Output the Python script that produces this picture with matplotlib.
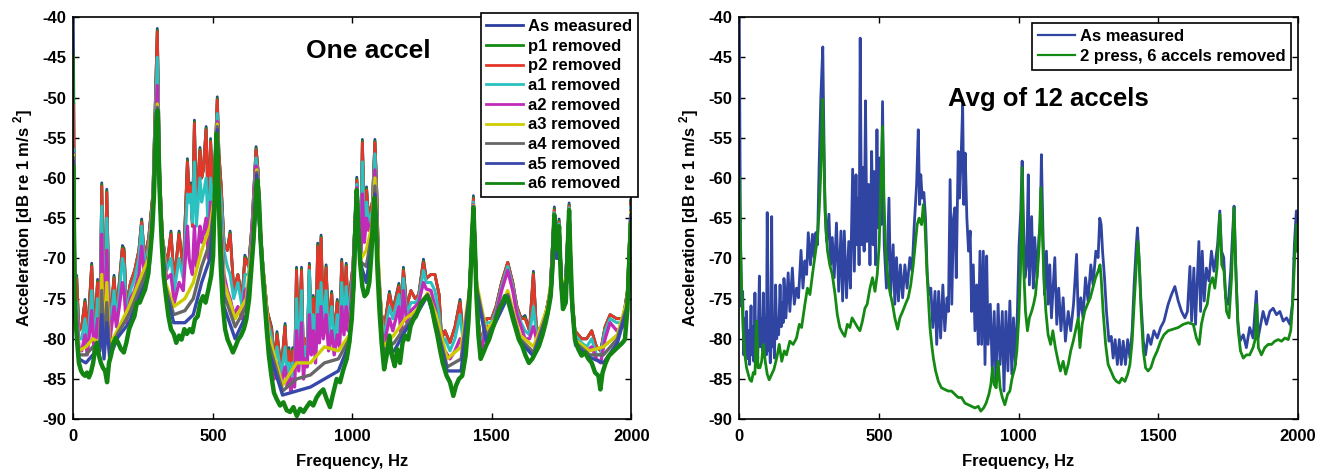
import numpy as np
import matplotlib
matplotlib.use("Agg")
import matplotlib.pyplot as plt

plt.rcParams["font.family"] = ["Liberation Sans", "DejaVu Sans"]
plt.rcParams["font.weight"] = "bold"
plt.rcParams["axes.unicode_minus"] = False
plt.rcParams["mathtext.fontset"] = "custom"
plt.rcParams["mathtext.rm"] = "Liberation Sans"
plt.rcParams["mathtext.bf"] = "Liberation Sans:bold"

freq_ticks = [0, 500, 1000, 1500, 2000]
db_ticks = [-90, -85, -80, -75, -70, -65, -60, -55, -50, -45, -40]

# ---- left panel ("One accel") ----
# shared frequency grid for the top of the stack (Hz)
f_top = [
    0, 6, 12, 20, 30, 42, 50, 66, 75, 87,
    95, 102, 110, 120, 130, 146, 155, 176, 182, 190,
    205, 220, 235, 245, 255, 270, 285, 301, 310, 320,
    335, 350, 362, 379, 394, 409, 415, 420, 427, 434,
    441, 454, 460, 466, 476, 484, 492, 500, 507, 516,
    522, 530, 540, 552, 562, 575, 590, 605, 615, 628,
    640, 655, 662, 670, 680, 695, 711, 720, 730, 745,
    759, 767, 773, 780, 786, 793, 800, 808, 818, 825,
    830, 838, 846, 853, 860, 868, 876, 882, 888, 896,
    906, 915, 926, 935, 946, 954, 962, 970, 978, 985,
    992, 1002, 1016, 1024, 1030, 1036, 1043, 1051, 1058, 1064,
    1072, 1081, 1088, 1095, 1105, 1115, 1133, 1145, 1167, 1175,
    1183, 1195, 1210, 1225, 1238, 1255, 1265, 1282, 1296, 1311,
    1320, 1332, 1350, 1368, 1386, 1398, 1416, 1425, 1434, 1442,
    1452, 1462, 1481, 1499, 1515, 1535, 1557, 1575, 1590, 1605,
    1619, 1635, 1649, 1660, 1679, 1695, 1709, 1724, 1733, 1741,
    1750, 1762, 1777, 1786, 1798, 1822, 1840, 1858, 1875, 1890,
    1906, 1924, 1948, 1971, 1986, 1999, 2000]

as_measured_1 = [
    -40, -73.5, -72.1, -79, -78.5, -75.1, -80, -70.6, -80, -72.6,
    -79, -60.6, -79, -61.4, -79, -72.1, -77, -68.4, -68.8, -76,
    -73, -71.5, -69, -65.1, -70, -67.5, -62, -41.4, -60, -67.5,
    -71, -66.6, -73, -66.6, -71.5, -57.6, -62, -60.6, -66, -52.8,
    -64, -56.2, -60, -59, -53.6, -65, -55.1, -62, -58.5, -49.9,
    -57, -61, -68, -69, -66.6, -74, -72, -75, -69.6, -71,
    -66, -56.1, -59, -66, -71, -76.5, -78.6, -83, -79.1, -84,
    -78.1, -84.5, -81.1, -85, -81.1, -84, -71.1, -82, -71.1, -83,
    -80, -82, -70.6, -80, -74.6, -81, -68.1, -78, -67.1, -78,
    -70.8, -79, -74.1, -80, -75.1, -79.5, -70.1, -78, -70.6, -77,
    -74, -71, -59.9, -66, -69, -55.2, -65, -61.1, -65, -64,
    -63, -55.2, -62, -72, -77, -78.5, -74.1, -76.5, -73.1, -78,
    -71.1, -76, -74, -75, -74.5, -70.1, -72.5, -72, -72, -74.5,
    -80, -79, -80.5, -78.5, -75.1, -80, -76, -70, -62.2, -70,
    -78, -80.5, -77.5, -77.5, -76, -73, -70.5, -73, -76, -77.5,
    -77.1, -79, -71.6, -79, -78.5, -76.5, -74, -63.6, -69, -65.1,
    -73, -74.5, -63.1, -74, -79, -80, -80, -79, -81, -81.5,
    -78.5, -77, -77.5, -77.5, -74, -62.6, -66]

p1_removed = [
    -44.8, -73.8, -72.3, -79, -78.5, -75.3, -80, -70.8, -80, -72.8,
    -79, -60.8, -79, -61.6, -79, -72.3, -77, -68.6, -69, -76,
    -73, -71.5, -69, -65.3, -70, -67.5, -62, -41.6, -60, -67.5,
    -71, -66.8, -73, -66.8, -71.5, -57.8, -62, -60.8, -66, -53,
    -64, -56.4, -60, -59, -53.8, -65, -55.3, -62, -58.5, -50.1,
    -57, -61, -68, -69, -66.8, -74, -72, -75, -69.8, -71,
    -66, -56.3, -59, -66, -71, -76.5, -78.8, -83, -79.3, -84,
    -78.3, -84.5, -81.3, -85, -81.3, -84, -71.3, -82, -71.3, -83,
    -80, -82, -70.8, -80, -74.8, -81, -68.3, -78, -67.3, -78,
    -71, -79, -74.3, -80, -75.3, -79.5, -70.3, -78, -70.8, -77,
    -74, -71, -60.1, -66, -69, -55.4, -65, -61.3, -65, -64,
    -63, -55.4, -62, -72, -77, -78.5, -74.3, -76.5, -73.3, -78,
    -71.3, -76, -74, -75, -74.5, -70.3, -72.5, -72, -72, -74.5,
    -80, -79, -80.5, -78.5, -75.3, -80, -76, -70, -62.4, -70,
    -78, -80.5, -77.5, -77.5, -76, -73, -70.5, -73, -76, -77.5,
    -77.3, -79, -71.8, -79, -78.5, -76.5, -74, -63.8, -69, -65.3,
    -73, -74.5, -63.3, -74, -79, -80, -80, -79, -81, -81.5,
    -78.5, -77, -77.5, -77.5, -74, -62.8, -66]

p2_removed = [
    -51, -74, -72.5, -79, -78.5, -75.5, -80, -71, -80, -73,
    -79, -61, -79, -61.8, -79, -72.5, -77, -68.8, -69.2, -76,
    -73, -71.5, -69, -65.5, -70, -67.5, -62, -41.8, -60, -67.5,
    -71, -67, -73, -67, -71.5, -58, -62, -61, -66, -53.2,
    -64, -56.6, -60, -59, -54, -65, -55.5, -62, -58.5, -50.3,
    -57, -61, -68, -69, -67, -74, -72, -75, -70, -71,
    -66, -56.5, -59, -66, -71, -76.5, -79, -83, -79.5, -84,
    -78.5, -84.5, -81.5, -85, -81.5, -84, -71.5, -82, -71.5, -83,
    -80, -82, -71, -80, -75, -81, -68.5, -78, -67.5, -78,
    -71.2, -79, -74.5, -80, -75.5, -79.5, -70.5, -78, -71, -77,
    -74, -71, -60.3, -66, -69, -55.6, -65, -61.5, -65, -64,
    -63, -55.6, -62, -72, -77, -78.5, -74.5, -76.5, -73.5, -78,
    -71.5, -76, -74, -75, -74.5, -70.5, -72.5, -72, -72, -74.5,
    -80, -79, -80.5, -78.5, -75.5, -80, -76, -70, -62.6, -70,
    -78, -80.5, -77.5, -77.5, -76, -73, -70.5, -73, -76, -77.5,
    -77.5, -79, -72, -79, -78.5, -76.5, -74, -64, -69, -65.5,
    -73, -74.5, -63.5, -74, -79, -80, -80, -79, -81, -81.5,
    -78.5, -77, -77.5, -77.5, -74, -63, -66]

a1_removed = [
    -56.5, -75, -75.5, -80, -80, -77.5, -81, -74, -81, -75,
    -79.5, -63.5, -80, -65, -79.5, -74, -78, -70, -71, -77,
    -74, -72.5, -70, -66, -71, -68.5, -63, -45, -61, -68,
    -71.5, -70, -74, -70, -72.5, -62, -63, -62, -65.5, -58,
    -66, -60, -63, -62, -60, -67, -60, -64, -60, -52,
    -60, -63, -69, -71, -72, -75, -73, -76, -72, -72,
    -67, -57.5, -60, -66.5, -71.5, -77.5, -80, -84, -81, -84.5,
    -81, -85, -83, -85.5, -83, -84.5, -75, -83, -74, -84,
    -81, -82, -71.5, -80.5, -77, -81.5, -74, -79, -73, -78.5,
    -74, -80, -76, -81, -77, -80, -73, -78.5, -73.5, -78,
    -75, -72, -60.8, -67, -70, -58, -66, -63, -65.5, -65,
    -64, -57, -64, -73, -78, -79.5, -76, -77.5, -74.5, -79,
    -72.5, -77, -75.5, -75.5, -75, -71.5, -73, -73, -74, -77,
    -80.5, -80, -81.5, -80, -77, -80.5, -76.5, -70.5, -63, -71,
    -78.5, -81, -78, -78, -76.5, -73.5, -71, -73.5, -76.5, -78,
    -79, -79.5, -76, -79.5, -79, -77, -74.5, -64.3, -69.5, -65.7,
    -73.5, -75, -63.7, -74.5, -79.5, -80.5, -81, -80, -82, -82,
    -79, -77.5, -78, -78, -74.5, -63.5, -66.5]

a2_removed = [
    -57, -76, -77, -81, -81.5, -79.5, -82, -76.5, -82, -77.5,
    -80.5, -67, -81, -69, -80.5, -76, -78.5, -73, -74, -78,
    -75, -74, -72, -68.5, -72, -69.5, -64, -48.5, -62, -69,
    -72.5, -72, -75.5, -73, -74, -66, -70, -71, -72, -66,
    -71, -66, -68, -67, -65, -70, -63, -66, -61.5, -53,
    -62, -66, -72, -74, -75, -77, -76, -77.5, -74, -73.5,
    -68, -58.5, -60.5, -67, -72, -78.5, -82, -85, -83, -85.5,
    -83.5, -86, -84.5, -86.5, -85, -86, -79, -84, -78, -85,
    -82.5, -83.5, -77, -82, -79, -83, -77, -80.5, -76, -80,
    -77, -81.5, -79, -82, -79.5, -81, -76, -79.5, -76, -79,
    -77, -72.5, -61.2, -68, -71, -62, -68, -65, -66.5, -66,
    -65, -59, -65.5, -74, -79, -80.5, -77.5, -79, -76, -80,
    -74, -78, -76.5, -76, -75.5, -73, -73.8, -74, -76, -79,
    -81.5, -81.5, -82.5, -81.5, -80, -81.5, -77, -71, -63.3, -71.5,
    -79, -81.5, -78.5, -78.5, -77, -74, -71.5, -74, -77, -78.5,
    -80, -80, -78.5, -80, -79.5, -77.5, -75, -64.5, -70, -66,
    -74, -75.2, -63.9, -75, -80, -81, -81.5, -81, -82.5, -83,
    -80, -78, -79, -78.5, -75, -64, -67]

# coarser grid for the lower part of the stack (Hz)
f_low = [
    0, 6, 20, 45, 70, 95, 102, 110, 120, 130,
    160, 200, 240, 270, 285, 301, 310, 330, 360, 400,
    430, 460, 490, 507, 516, 522, 540, 580, 620, 645,
    657, 670, 700, 750, 800, 850, 900, 950, 990, 1005,
    1016, 1028, 1050, 1070, 1081, 1090, 1110, 1150, 1190, 1230,
    1270, 1300, 1340, 1390, 1420, 1434, 1445, 1480, 1520, 1557,
    1600, 1650, 1700, 1716, 1724, 1733, 1741, 1750, 1770, 1777,
    1786, 1800, 1850, 1900, 1950, 1985, 1999, 2000]

a3_removed = [
    -57.2, -76.5, -81.5, -81, -80, -80.5, -72, -81.2, -73, -80.8,
    -78.8, -76, -72.5, -70, -64.2, -50.8, -62.2, -73, -76, -75,
    -73, -69, -66, -62, -53.3, -62.5, -73, -77.5, -75, -67.5,
    -59, -67.2, -79.5, -85.8, -83, -83, -81, -81.5, -79.5, -73.2,
    -61.5, -70.2, -69, -66, -60, -68, -81, -79.5, -77.5, -76.5,
    -74.3, -77, -82.5, -81, -74, -63.4, -73, -79, -77.2, -74,
    -79.5, -81, -76, -72, -64.5, -70, -66, -74, -72, -63.9,
    -75, -80.2, -81.5, -81, -79.5, -75.2, -64.2, -67.2]

a4_removed = [
    -57.5, -76.8, -82, -82, -81, -81, -74, -81.8, -75.5, -81.5,
    -79.3, -77, -73.5, -71, -64.5, -51.2, -62.5, -73.5, -77, -76.5,
    -75, -71, -68, -62.5, -53.6, -63, -74.5, -78.5, -76, -68,
    -59.3, -67.4, -80.5, -86.5, -85, -84.5, -83, -82.5, -80, -73.4,
    -61.8, -70.4, -71, -67, -61, -69.5, -81.5, -80.5, -78.5, -76.8,
    -74.5, -78, -83.5, -82.5, -74.2, -63.5, -73.5, -79.7, -77.4, -74.5,
    -80, -81.7, -76.5, -72.5, -64.5, -70, -66, -74, -72.5, -64,
    -75.2, -80.5, -82, -82, -80, -75.8, -64.5, -67.5]

a5_removed = [
    -58, -77, -82.5, -83, -82, -81.5, -77, -82.5, -78, -82.3,
    -79.8, -78, -74.5, -72, -64.8, -51.5, -62.8, -74, -78, -78,
    -77, -73, -70, -63, -54, -63.5, -76, -80, -77, -68.5,
    -59.6, -67.6, -81.5, -87, -86.5, -86, -85, -84, -80.5, -73.6,
    -62, -70.5, -73, -68, -62, -70.5, -82, -81.5, -79, -77,
    -74.6, -78.5, -84, -84, -74.4, -63.6, -74, -80.3, -77.5, -74.8,
    -80.3, -82.2, -77, -73, -64.6, -70, -66, -74, -73, -64,
    -75.4, -80.8, -82.3, -83, -80.5, -76.2, -65, -68]

# lowest trace, (Hz, dB)
a6_removed = [
    (0, -58.6), (4, -72.2), (8, -77.6), (14, -80.5), (20, -83), (28, -84),
    (35, -84.4), (42, -84.6), (49, -84.2), (56, -84.8), (63, -84.2), (71, -83),
    (78, -81.3), (85, -80.5), (92, -82.1), (99, -83), (106, -83.6), (114, -84),
    (121, -85.4), (128, -83), (135, -82.1), (144, -80.5), (152, -79.9),
    (161, -80.5), (171, -81.3), (181, -81.7), (190, -80.5), (200, -78.8),
    (209, -78), (219, -77.2), (228, -75.5), (238, -75.5), (247, -74.7),
    (257, -73.9), (267, -72.2), (275, -69.7), (283, -66.4), (289, -62.3),
    (294, -56.5), (299, -52), (302, -51.6), (306, -56.5), (311, -63.1),
    (317, -68.1), (324, -72.2), (332, -74.7), (341, -77.2), (350, -78.8),
    (360, -79.4), (369, -80.5), (379, -79.6), (388, -80.1), (398, -78.8),
    (407, -79.4), (417, -78.8), (427, -79.2), (436, -77.6), (446, -77.2),
    (455, -75.5), (465, -74.7), (474, -75.5), (484, -73.9), (494, -72.2),
    (501, -69.7), (507, -62.3), (513, -54.5), (517, -56.5), (522, -64),
    (528, -70.6), (535, -75.5), (544, -78.8), (553, -80.1), (563, -80.9),
    (572, -81.7), (582, -80.9), (591, -80.1), (601, -79.6), (611, -78.8),
    (620, -77.6), (630, -75.1), (638, -71.4), (645, -68.1), (651, -64.8),
    (657, -60.8), (660, -60.3), (666, -63.1), (672, -68.1), (679, -72.2),
    (686, -75.5), (693, -78.8), (701, -82.1), (710, -84.6), (719, -86.7),
    (729, -87.5), (741, -88.3), (753, -87.9), (765, -88.9), (777, -89.1),
    (789, -88.5), (801, -89.6), (813, -88.7), (825, -89.1), (836, -88.5),
    (848, -87.9), (860, -88.3), (872, -87.3), (884, -86.7), (896, -86.3),
    (908, -87.5), (920, -88.5), (932, -86.7), (944, -85), (956, -85.4),
    (968, -83.8), (980, -82.5), (989, -80.5), (998, -77.6), (1005, -73),
    (1011, -66), (1016, -61.5), (1020, -65), (1028, -70.6), (1036, -73.5),
    (1044, -74.7), (1053, -74.3), (1061, -73), (1068, -69.7), (1074, -65.6),
    (1079, -62.5), (1084, -64.8), (1090, -71.4), (1097, -76.3), (1105, -80.5),
    (1114, -83.8), (1123, -82.1), (1133, -79.6), (1142, -82.1), (1152, -83.4),
    (1161, -81.3), (1171, -83), (1180, -80.5), (1190, -79.6), (1200, -80.1),
    (1209, -78.4), (1219, -77.6), (1228, -77.2), (1238, -76.3), (1247, -75.5),
    (1257, -75.1), (1267, -74.7), (1276, -75.1), (1286, -76.3), (1295, -78),
    (1305, -79.6), (1314, -81.3), (1324, -83), (1338, -84.6), (1350, -85.4),
    (1362, -87.1), (1372, -85.8), (1382, -85), (1394, -84.6), (1406, -82.1),
    (1416, -78), (1423, -73), (1429, -67.3), (1434, -63.7), (1439, -68.1),
    (1445, -74.7), (1452, -79.6), (1460, -82.5), (1470, -81.7), (1479, -80.9),
    (1490, -80.1), (1502, -78.8), (1514, -77.6), (1526, -76.3), (1538, -75.5),
    (1547, -74.7), (1557, -75.1), (1566, -76.3), (1576, -77.6), (1586, -78.8),
    (1597, -80.1), (1609, -80.9), (1621, -82.1), (1633, -83), (1645, -82.5),
    (1657, -81.7), (1669, -80.9), (1681, -79.6), (1693, -78), (1703, -76.3),
    (1711, -74.7), (1718, -70.6), (1724, -64.6), (1730, -68.1), (1736, -68.9),
    (1741, -66), (1747, -72.2), (1755, -76.3), (1765, -75.5), (1772, -68.9),
    (1777, -64), (1781, -68.9), (1789, -76.3), (1798, -80.1), (1810, -81.3),
    (1822, -82.1), (1834, -81.7), (1846, -82.5), (1858, -83), (1870, -84.2),
    (1882, -84.6), (1889, -86.3), (1897, -84.2), (1908, -83), (1920, -82.1),
    (1932, -81.7), (1944, -81.3), (1956, -80.9), (1968, -80.5), (1977, -80.1),
    (1986, -76.3), (1993, -69.7), (1999, -65.6), (2000, -68.9)]

# ---- right panel ("Avg of 12 accels"), (Hz, dB) ----
avg_measured = [
    (0, -40), (4, -66), (8, -76), (12, -74.1), (16, -82), (19, -77.5),
    (22, -81.5), (26, -76.6), (30, -82.5), (33, -79), (37, -83.2), (42, -75.9),
    (45, -82), (48, -78.5), (52, -82.8), (56, -74.3), (59, -81), (62, -78.5),
    (66, -82.5), (72, -72.2), (76, -81), (79, -77.5), (83, -81.5), (86, -74.3),
    (90, -81), (93, -78), (97, -82), (100, -64.3), (104, -81.5), (107, -79),
    (111, -83), (116, -64.8), (119, -81), (122, -79.5), (126, -82.4),
    (130, -73.3), (134, -80), (137, -77.5), (141, -79.5), (146, -73.3),
    (150, -78.5), (153, -75.5), (157, -78),
    (160, -72.5), (167, -77.4), (175, -71.8), (181, -76.6), (190, -71.2),
    (197, -75.7), (205, -73.7), (212, -74.9), (221, -69), (228, -73.7),
    (235, -70.3), (241, -72), (247, -66.8), (255, -70.8), (262, -67),
    (268, -69.9), (274, -66.8), (280, -68.3), (286, -58.3), (292, -50),
    (299, -43.7), (302, -52), (307, -64), (313, -67.9), (321, -64.5),
    (327, -70.8), (333, -67.4), (340, -72.4), (348, -65.6), (356, -74.1),
    (364, -66.6), (370, -75.3), (376, -66.6), (384, -74.9), (392, -67.9),
    (398, -73.7), (406, -58.9), (412, -71.6), (418, -59.6), (422, -68.3),
    (426, -62.5), (429, -70.8), (433, -42.6), (438, -68.3), (443, -58.7),
    (447, -69.1), (452, -50.4), (457, -67.9), (463, -60.8), (468, -70.8),
    (474, -56.7), (479, -68.3), (483, -59.2), (488, -70.8), (493, -54),
    (497, -66.2), (503, -57.5), (508, -65.8), (513, -50.5), (519, -68.3),
    (527, -73.7), (536, -62.5), (542, -74.5), (551, -68.3), (557, -75.7),
    (563, -69.9), (570, -75.3), (577, -70.8), (585, -74.9), (593, -70.8),
    (601, -73.7), (611, -69.9), (619, -71.6), (626, -66.2), (635, -60.8),
    (641, -54), (646, -63.3), (650, -59.6), (655, -62.5), (661, -61.8),
    (667, -65), (673, -72), (679, -74.5), (686, -73.7), (693, -78.6),
    (701, -74.1), (707, -80.7), (714, -74.1), (721, -79.9), (729, -73.3),
    (736, -79), (744, -74.9), (749, -76.6), (755, -60.2), (761, -75.7),
    (767, -65), (772, -63.7), (777, -72.4), (784, -56.7), (789, -62.5),
    (794, -57.9), (800, -50.9), (804, -63.3), (809, -56.9), (815, -65),
    (821, -69.1), (827, -66.6), (832, -76.6), (838, -70.8), (844, -79),
    (850, -73.3), (856, -80.7), (862, -69.1), (868, -80.7), (874, -69.1),
    (880, -83.2), (886, -69.7), (891, -80.7), (899, -75.7), (906, -84),
    (913, -76.6), (919, -85.3), (927, -75.7), (934, -83.2), (942, -76.6),
    (948, -86.5), (955, -76.6), (962, -84), (969, -75.3), (976, -84.4),
    (982, -77.4), (989, -83.2), (996, -76.6), (1002, -68.3), (1008, -64.1),
    (1013, -57.9), (1018, -65.8), (1023, -72.4), (1029, -70.8), (1035, -59.6),
    (1039, -73.3), (1047, -64.8), (1053, -73.7), (1058, -67.4), (1066, -72.4),
    (1073, -67.4), (1078, -65.8), (1082, -57.1), (1087, -65.8), (1093, -74.5),
    (1100, -69.1), (1106, -75.7), (1112, -70.8), (1118, -77.4), (1130, -69.9),
    (1137, -78.2), (1144, -73.7), (1152, -79), (1160, -74.9), (1168, -80.3),
    (1178, -76.6), (1187, -79), (1197, -75.7), (1208, -69.5), (1214, -77.4),
    (1223, -74.9), (1231, -77.4), (1240, -72.4), (1249, -75.3), (1259, -70.8),
    (1267, -73.3), (1277, -69.1), (1285, -69.9), (1291, -65), (1296, -65.8),
    (1301, -69.1), (1308, -72.4), (1315, -76.6), (1324, -80.3), (1332, -79.7),
    (1339, -82.4), (1346, -80.1), (1354, -83.2), (1361, -80.1), (1368, -83.2),
    (1375, -80.3), (1383, -83.2), (1391, -80.1), (1399, -82.4), (1407, -79),
    (1414, -73.3), (1422, -68.3), (1426, -66.2), (1432, -70.3), (1438, -74.9),
    (1447, -80.3), (1455, -82), (1464, -79.5), (1474, -80.7), (1485, -79),
    (1497, -79.9), (1509, -78.6), (1521, -77.8), (1536, -75.7), (1548, -74.5),
    (1560, -73.5), (1572, -75.3), (1584, -76.6), (1596, -77.4), (1605, -76.6),
    (1614, -71), (1620, -77.8), (1628, -71.2), (1634, -78.2), (1646, -67.9),
    (1652, -76.6), (1658, -69.1), (1665, -75.3), (1673, -71.2), (1682, -72.8),
    (1691, -69.1), (1700, -71.6), (1707, -69.9), (1713, -68.3), (1721, -64.1),
    (1727, -69.1), (1735, -69.9), (1742, -74.9), (1751, -75.7), (1760, -71.6),
    (1766, -67.4), (1772, -63.5), (1778, -70.8), (1785, -77.8), (1793, -80.3),
    (1805, -79.5), (1816, -81.1), (1828, -78.6), (1840, -79.9), (1852, -74.1),
    (1858, -79.9), (1876, -76.6), (1888, -78.2), (1900, -76.6), (1912, -76.2),
    (1924, -77), (1936, -76.6), (1948, -77.8), (1960, -77.4), (1972, -78.2),
    (1981, -75.7), (1988, -68.3), (1995, -64.1), (2000, -68.3)]

avg_removed = [
    (0, -60), (4, -68), (8, -73.3), (14, -79), (20, -82), (26, -83.6),
    (32, -84.4), (38, -85.1), (44, -85.3), (50, -84.2), (56, -84.4), (62, -77.8),
    (67, -83.6), (74, -83.6), (80, -82.8), (86, -80.7), (93, -82.8), (100, -84.4),
    (107, -85.1), (116, -84.4), (124, -83.8), (134, -82.4), (143, -80.7),
    (152, -82.8), (161, -81.5), (169, -82), (181, -80.3), (193, -80.7),
    (205, -79.9), (215, -78.2), (223, -78.6), (235, -75.7), (244, -73.7),
    (253, -74.5), (262, -72), (272, -69.5), (280, -67.4), (286, -64.1),
    (291, -60), (295, -55), (298, -50.2), (302, -55.8), (305, -60.8),
    (310, -66.2), (316, -69.1), (324, -70.8), (333, -72), (343, -74.5),
    (351, -77), (360, -78.6), (370, -79.3), (378, -79.7), (387, -78.2),
    (396, -78.6), (404, -77.4), (414, -78), (424, -78.6), (432, -79),
    (441, -77.8), (450, -76.2), (458, -75.7), (468, -73.7), (477, -72.4),
    (486, -74.1), (494, -72), (501, -68.3), (507, -60.8), (513, -53.6),
    (518, -62.5), (523, -68.3), (530, -71.6), (539, -74.1), (549, -75.7),
    (557, -77.4), (567, -78.8), (575, -77.4), (585, -76.6), (595, -75.7),
    (605, -74.9), (614, -73.3), (623, -70.8), (630, -68.3), (637, -65.8),
    (644, -65), (647, -65.4), (653, -65.8), (659, -63.3), (665, -65.8),
    (671, -70.8), (677, -74.9), (683, -78.6), (689, -80.7), (695, -82.4),
    (703, -84), (713, -85.3), (724, -86.1), (736, -86.3), (748, -86.5),
    (760, -86.5), (772, -86.9), (784, -87.3), (796, -87.3), (808, -88),
    (820, -88.2), (832, -88.4), (844, -88.6), (856, -88.4), (865, -89),
    (875, -88.6), (884, -88), (894, -86.9), (901, -85.7), (907, -83.6),
    (913, -85.7), (920, -86.1), (927, -82.8), (934, -86.1), (942, -87.3),
    (951, -88.2), (961, -86.9), (969, -86.5), (977, -84.9), (987, -83.6),
    (994, -81.5), (1001, -77.4), (1007, -71.6), (1013, -58.7), (1018, -70.8),
    (1025, -76.6), (1032, -79), (1039, -77.4), (1047, -76.6), (1054, -75.7),
    (1061, -74.5), (1068, -71.6), (1074, -68.3), (1080, -61.2), (1085, -66.2),
    (1091, -72.4), (1098, -76.6), (1106, -79.5), (1115, -80.7), (1123, -79),
    (1132, -81.1), (1142, -82.8), (1150, -84), (1160, -82.8), (1169, -84.4),
    (1178, -83.2), (1187, -81.5), (1196, -80.3), (1204, -79), (1214, -77.4),
    (1220, -81.1), (1228, -78.2), (1237, -76.6), (1247, -75.7), (1257, -74.9),
    (1266, -73.7), (1276, -72.4), (1285, -71.6), (1292, -70.8), (1296, -72.4),
    (1303, -76.6), (1312, -80.7), (1321, -83.2), (1331, -84), (1342, -84.9),
    (1351, -85.3), (1361, -85.5), (1370, -84.9), (1381, -85.3), (1391, -84.4),
    (1399, -83.2), (1407, -80.3), (1414, -75.7), (1422, -70.8), (1428, -67.9),
    (1433, -70.8), (1439, -76.6), (1447, -81.5), (1455, -83.6), (1464, -84),
    (1474, -83.6), (1485, -82.4), (1497, -81.5), (1509, -80.3), (1521, -79.5),
    (1536, -79), (1554, -78.8), (1572, -78.6), (1590, -78.2), (1608, -78),
    (1626, -78.2), (1637, -79.9), (1647, -80.7), (1655, -78.2), (1665, -76.6),
    (1676, -75.7), (1685, -73.3), (1695, -72.4), (1703, -73.7), (1711, -71.2),
    (1721, -64.5), (1728, -70.8), (1736, -71.6), (1745, -76.6), (1754, -77.4),
    (1763, -72.4), (1772, -63.7), (1779, -72.4), (1787, -79), (1795, -81.5),
    (1805, -82.4), (1816, -82), (1828, -82), (1840, -81.1), (1849, -79.9),
    (1853, -75.7), (1859, -81.1), (1870, -82), (1882, -81.1), (1894, -80.7),
    (1906, -80.7), (1918, -80.3), (1930, -80.1), (1942, -80.3), (1954, -79.9),
    (1966, -80.1), (1975, -79), (1983, -74.9), (1991, -68.3), (1997, -65.8),
    (2000, -69.1)]

left_labels = ["As measured", "p1 removed", "p2 removed", "a1 removed",
               "a2 removed", "a3 removed", "a4 removed", "a5 removed",
               "a6 removed"]
left_colors = ["#2b3d9c", "#138a13", "#e5362a", "#2bc1c1", "#c02cb8",
               "#cdcd00", "#676767", "#3848aa", "#128412"]
left_widths = [2.0, 2.0, 2.0, 2.2, 2.4, 2.4, 2.4, 2.4, 3.2]
right_labels = ["As measured", "2 press, 6 accels removed"]
right_colors = ["#3045a2", "#148a14"]

fig = plt.figure(figsize=(13.28, 4.71), dpi=100)
ax1 = fig.add_axes([0.0552, 0.110, 0.4202, 0.8535])
ax2 = fig.add_axes([0.5567, 0.110, 0.4205, 0.8535])

a6 = np.array(a6_removed).T
left_series = [(f_top, as_measured_1), (f_top, p1_removed), (f_top, p2_removed),
               (f_top, a1_removed), (f_top, a2_removed), (f_low, a3_removed),
               (f_low, a4_removed), (f_low, a5_removed), (a6[0], a6[1])]
handles = []
for (fx, dbx), lab, col, lw in zip(left_series, left_labels, left_colors,
                                   left_widths):
    ln, = ax1.plot(fx, dbx, color=col, lw=lw, label=lab)
    handles.append(ln)

for data, lab, col in zip([avg_measured, avg_removed], right_labels, right_colors):
    arr = np.array(data).T
    ax2.plot(arr[0], arr[1], color=col, lw=2.0, label=lab)

ylab = "Acceleration [dB re 1 m/s $^{\\mathbf{2}}$]"
for ax in (ax1, ax2):
    ax.set_xlim(0, 2000)
    ax.set_ylim(-90, -40)
    ax.set_xticks(freq_ticks)
    ax.set_yticks(db_ticks)
    ax.tick_params(direction="in", top=True, right=True, length=4,
                   width=1, labelsize=12, pad=5)
    ax.tick_params(axis="x", pad=7)
    for lab in ax.get_xticklabels() + ax.get_yticklabels():
        lab.set_fontweight("bold")
    for sp in ax.spines.values():
        sp.set_linewidth(1.2)
    ax.set_xlabel("Frequency, Hz", fontsize=12, fontweight="bold", labelpad=7)
    ax.set_ylabel(ylab, fontsize=12, fontweight="bold", labelpad=5)

leg_kw = dict(fontsize=12, handlelength=2.2, handletextpad=0.3,
              labelspacing=0.28, borderpad=0.35, borderaxespad=0,
              fancybox=False, framealpha=1, edgecolor="black")
leg1 = ax1.legend(loc="upper right", bbox_to_anchor=(1.012, 1.01), **leg_kw)
leg1.get_frame().set_linewidth(1.2)
for h in leg1.get_lines():
    h.set_linewidth(2.0)
leg2 = ax2.legend(loc="upper right", bbox_to_anchor=(0.988, 0.985), **leg_kw)
leg2.get_frame().set_linewidth(1.2)
for h in leg2.get_lines():
    h.set_linewidth(1.6)

ax1.text(0.528, 0.915, "One accel", transform=ax1.transAxes, ha="center",
         va="center", fontsize=19, fontweight="bold")
ax2.text(0.553, 0.796, "Avg of 12 accels", transform=ax2.transAxes,
         ha="center", va="center", fontsize=18.5, fontweight="bold")

fig.savefig("out.png", dpi=100)
